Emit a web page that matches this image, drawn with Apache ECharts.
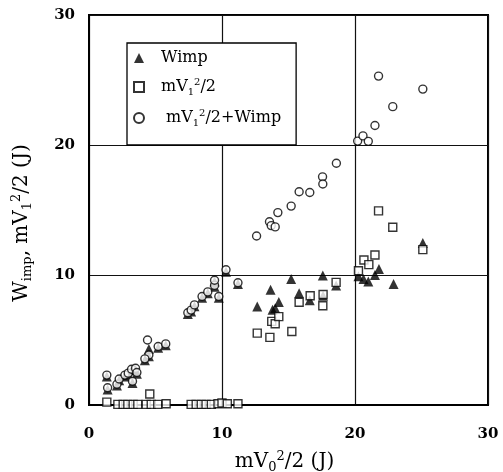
<!DOCTYPE html>
<html>
<head>
<meta charset="utf-8">
<script src="https://cdn.jsdelivr.net/npm/echarts@6/dist/echarts.min.js"></script>
<style>
  html, body { margin: 0; padding: 0; background: #fff; }
  #chart { width: 503px; height: 472px; }
</style>
</head>
<body>
<div id="chart"></div>
<script>
// axis ticks
var xTicks = [0, 10, 20, 30];
var yTicks = [0, 10, 20, 30];

// [mV0^2/2, value]
var wimpPoints = [
  [1.34, 2.2], [1.4, 1.2], [2.1, 1.5], [2.27, 1.9], [2.7, 2.2], [2.95, 2.35], [3.2, 2.65],
  [3.5, 2.7], [3.6, 2.4], [3.27, 1.7], [4.5, 4.3], [4.5, 3.75], [4.2, 3.45], [5.2, 4.4],
  [5.77, 4.6], [7.43, 7.0], [7.68, 7.2], [7.93, 7.6], [8.5, 8.25], [8.93, 8.6], [9.44, 9.1],
  [9.44, 9.5], [9.76, 8.25], [10.3, 10.25], [11.2, 9.3],
  [12.65, 7.58], [13.65, 8.87], [13.8, 7.32], [14.0, 7.45], [14.27, 7.92], [15.2, 9.7],
  [15.8, 8.6], [16.6, 8.05], [17.58, 9.97], [17.6, 8.4], [18.58, 9.2],
  [20.26, 9.9], [20.64, 9.69], [21.0, 9.5], [21.5, 10.0], [21.8, 10.46], [22.9, 9.3], [25.1, 12.47]
];
var keV1Points = [
  [1.34, 0.22], [2.17, 0.05], [2.57, 0.05], [2.92, 0.05], [3.32, 0.05], [3.67, 0.05], [4.3, 0.05],
  [4.68, 0.05], [5.17, 0.05], [5.8, 0.1], [7.68, 0.05], [8.06, 0.05], [8.44, 0.05], [8.8, 0.05],
  [9.2, 0.05], [9.7, 0.1], [10.0, 0.15], [10.4, 0.1], [11.2, 0.1], [4.57, 0.85],
  [12.65, 5.53], [13.6, 5.2], [13.74, 6.43], [14.0, 6.25], [14.27, 6.8], [15.25, 5.65],
  [15.8, 7.9], [16.63, 8.4], [17.6, 8.5], [17.58, 7.63], [18.58, 9.43],
  [20.26, 10.33], [20.67, 11.15], [21.04, 10.8], [21.5, 11.54], [21.77, 14.93], [22.84, 13.67], [25.1, 11.95]
];
var sumPoints = [
  [1.34, 2.3], [1.4, 1.33], [2.1, 1.6], [2.27, 2.0], [2.7, 2.3], [2.95, 2.45], [3.2, 2.75],
  [3.5, 2.83], [3.6, 2.5], [3.27, 1.83], [4.4, 5.0], [4.5, 3.85], [4.2, 3.55], [5.2, 4.5],
  [5.77, 4.7], [7.43, 7.1], [7.68, 7.3], [7.93, 7.7], [8.5, 8.35], [8.93, 8.7], [9.44, 9.2],
  [9.44, 9.6], [9.76, 8.35], [10.3, 10.4], [11.2, 9.4],
  [12.6, 13.0], [13.57, 14.1], [13.7, 13.8], [14.0, 13.7], [14.2, 14.8], [15.2, 15.3],
  [15.8, 16.4], [16.6, 16.35], [17.56, 17.55], [17.58, 17.0], [18.6, 18.6],
  [20.2, 20.3], [20.6, 20.7], [21.0, 20.28], [21.5, 21.5], [21.77, 25.3], [22.84, 22.95], [25.1, 24.3]
];

var serif = 'DejaVu Serif';

var legendText = {
  'Wimp': '{f|Wimp}',
  'mV1^2/2': '{f|mV}{sub|1}{sup|2}{b|/2}',
  'mV1^2/2+Wimp': '{g|mV}{sub|1}{sup|2}{b|/2+Wimp}'
};

var richLegend = {
  f: { fontFamily: serif, fontSize: 16, lineHeight: 20, color: '#000', padding: [0, 0, 0, 12] },
  g: { fontFamily: serif, fontSize: 16, lineHeight: 20, color: '#000', padding: [0, 0, 0, 17] },
  b: { fontFamily: serif, fontSize: 16, lineHeight: 20, color: '#000' },
  sub: { fontFamily: serif, fontSize: 10, lineHeight: 9, verticalAlign: 'bottom', color: '#000' },
  sup: { fontFamily: serif, fontSize: 10, lineHeight: 9, verticalAlign: 'top', color: '#000' }
};
var richTitle = {
  b: { fontFamily: serif, fontSize: 20, lineHeight: 24, color: '#000' },
  sub: { fontFamily: serif, fontSize: 13, lineHeight: 11, verticalAlign: 'bottom', color: '#000' },
  sup: { fontFamily: serif, fontSize: 13, lineHeight: 11, verticalAlign: 'top', color: '#000' }
};

var option = {
  animation: false,
  backgroundColor: '#fff',
  grid: {
    left: 89, right: 15, top: 15, bottom: 67,
    outerBoundsMode: 'none',
    show: true, borderColor: '#000', borderWidth: 2, backgroundColor: 'transparent'
  },
  legend: {
    orient: 'vertical',
    left: 127, top: 43,
    padding: [7, 15, 17, 6],
    itemGap: 11,
    itemWidth: 10, itemHeight: 10,
    backgroundColor: '#fff',
    borderColor: '#000', borderWidth: 1.3,
    formatter: function (name) { return legendText[name]; },
    textStyle: { rich: richLegend },
    data: ['Wimp', 'mV1^2/2', 'mV1^2/2+Wimp']
  },
  xAxis: {
    type: 'value', min: 0, max: 30, interval: 10,
    name: '{b|mV}{sub|0}{sup|2}{b|/2 (J)}',
    nameLocation: 'middle', nameGap: 45,
    nameTextStyle: { rich: richTitle, padding: [0, 8, 0, 0] },
    axisLine: { show: true, lineStyle: { color: '#000', width: 2 } },
    axisTick: { show: false },
    axisLabel: {
      margin: 22, color: '#000', fontFamily: serif, fontWeight: 'bold', fontSize: 15,
      formatter: function (v) { return xTicks.indexOf(v) >= 0 ? String(v) : ''; }
    },
    splitLine: { show: true, lineStyle: { color: '#111', width: 1.2 } }
  },
  yAxis: {
    type: 'value', min: 0, max: 30, interval: 10,
    name: '{b|W}{sub|imp}{b|, mV}{sub|1}{sup|2}{b|/2 (J)}',
    nameLocation: 'middle', nameGap: 55, nameRotate: 90,
    nameTextStyle: { rich: richTitle, padding: [0, 26, 0, 0] },
    axisLine: { show: true, lineStyle: { color: '#000', width: 2 } },
    axisTick: { show: false },
    axisLabel: {
      margin: 14, color: '#000', fontFamily: serif, fontWeight: 'bold', fontSize: 15,
      formatter: function (v) { return yTicks.indexOf(v) >= 0 ? String(v) : ''; }
    },
    splitLine: { show: true, lineStyle: { color: '#111', width: 1.2 } }
  },
  series: [
    {
      name: 'Wimp', type: 'scatter', symbol: 'triangle', symbolSize: 10,
      itemStyle: { color: '#000' },
      data: wimpPoints, z: 2
    },
    {
      name: 'mV1^2/2', type: 'scatter', symbol: 'rect', symbolSize: 8,
      itemStyle: { color: '#fff', borderColor: '#000', borderWidth: 1.4 },
      data: keV1Points, z: 3
    },
    {
      name: 'mV1^2/2+Wimp', type: 'scatter', symbol: 'circle', symbolSize: 8,
      itemStyle: { color: '#fff', borderColor: '#000', borderWidth: 1.4 },
      data: sumPoints, z: 3
    }
  ]
};

var chart = echarts.init(document.getElementById('chart'));
chart.setOption(option);
</script>
</body>
</html>
